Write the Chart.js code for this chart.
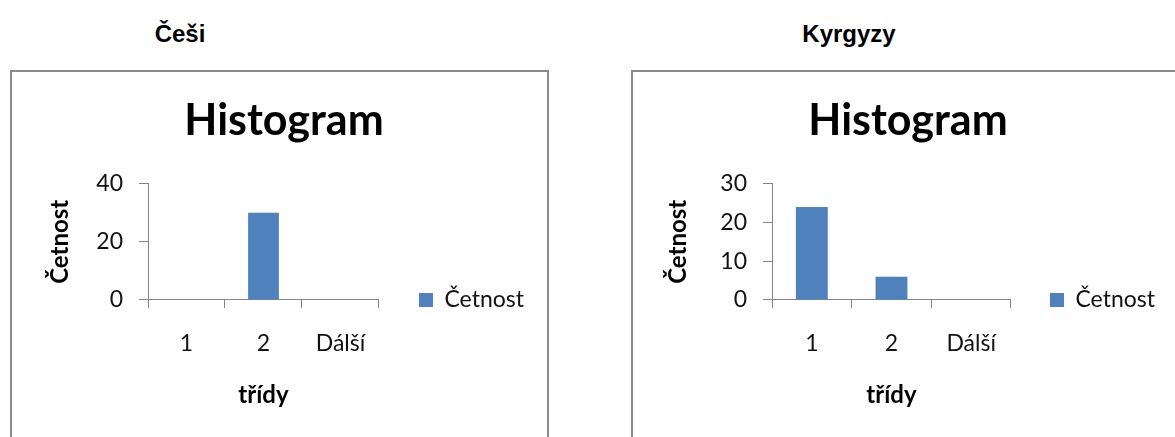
<!DOCTYPE html>
<html>
<head>
<meta charset="utf-8">
<script src="https://cdn.jsdelivr.net/npm/chart.js@4.4.1/dist/chart.umd.min.js"></script>
<style>
  html, body { margin: 0; padding: 0; background: #fff; overflow: hidden; width: 1175px; height: 437px; }
  .heading { position: absolute; top: 22px; font: bold 24px "Liberation Sans", Arial, sans-serif; line-height: 24px; color: #000; transform: translateX(-50%); white-space: nowrap; }
  .frame { position: absolute; top: 70px; height: 456px; border: 2px solid #8a8a8a; border-bottom: none; background: #fff; }
  canvas { display: block; }
</style>
</head>
<body>
<div class="heading" style="left:180px">Češi</div>
<div class="heading" style="left:849px">Kyrgyzy</div>
<div class="frame" style="left:10px; width:535px;"><canvas id="chartCesi" width="535" height="456"></canvas></div>
<div class="frame" style="left:631px; width:560px; border-right:none;"><canvas id="chartKyrgyzy" width="542" height="456"></canvas></div>

<script>
// data
const tridy = ['1', '2', 'Dálší'];
const cetnostCesi = [0, 30, 0];
const cetnostKyrgyzy = [24, 6, 0];
const ticksCesi = [0, 20, 40];
const ticksKyrgyzy = [0, 10, 20, 30];

const barva = '#4f81bd';
const sedaOsa = '#868686';

Chart.defaults.font.family = 'Lato, "Open Sans", sans-serif';
Chart.defaults.color = '#111';

// one histogram, padding values tuned so the plot sits where the original one does
function createHistogram(id, data, yTicks, lay) {
    const ctx = document.getElementById(id).getContext('2d');
    return new Chart(ctx, {
        type: 'bar',
        data: {
            labels: tridy,
            datasets: [{
                label: 'Četnost',
                data: data,
                backgroundColor: barva,
                borderWidth: 0,
                barPercentage: 0.4,
                categoryPercentage: 1.0
            }]
        },
        options: {
            responsive: false,
            animation: false,
            layout: { padding: { left: lay.padLeft, right: lay.padRight, top: 0, bottom: 0 } },
            plugins: {
                tooltip: { enabled: false },
                title: {
                    display: true,
                    text: 'Histogram',
                    color: '#000',
                    font: { size: 43, weight: 'bold' },
                    padding: { top: 23, bottom: 37 }
                },
                legend: {
                    position: 'right',
                    align: 'center',
                    maxWidth: 300,
                    labels: {
                        boxWidth: 14,
                        boxHeight: 14,
                        padding: lay.legendPad,
                        color: '#111',
                        font: { size: 23 }
                    }
                }
            },
            scales: {
                x: {
                    afterFit: function(scale) { scale.height = 228; },
                    border: { display: true, color: sedaOsa, width: 1 },
                    grid: { display: true, drawOnChartArea: false, drawTicks: true, tickLength: 8, color: sedaOsa, offset: true },
                    ticks: { padding: 22, font: { size: 23 }, color: '#111' },
                    title: {
                        display: true,
                        text: 'třídy',
                        color: '#000',
                        font: { size: 24, weight: 'bold' },
                        padding: { top: 0, bottom: 118 }
                    }
                },
                y: {
                    min: 0,
                    max: yTicks[yTicks.length - 1],
                    afterFit: function(scale) { scale.width = lay.yWidth; },
                    afterBuildTicks: function(scale) { scale.ticks = yTicks.map(v => ({ value: v })); },
                    border: { display: true, color: sedaOsa, width: 1 },
                    grid: { display: true, drawOnChartArea: false, drawTicks: true, tickLength: 9, color: sedaOsa },
                    ticks: { padding: 16, font: { size: 23 }, color: '#111' },
                    title: {
                        display: true,
                        text: 'Četnost',
                        color: '#000',
                        font: { size: 24, weight: 'bold' },
                        padding: { top: lay.yTitlePad, bottom: 0 }
                    }
                }
            }
        }
    });
}

createHistogram('chartCesi', cetnostCesi, ticksCesi, { padLeft: 22, padRight: 13, yWidth: 114, legendPad: 40, yTitlePad: 12 });
createHistogram('chartKyrgyzy', cetnostKyrgyzy, ticksKyrgyzy, { padLeft: 18, padRight: 10, yWidth: 121, legendPad: 39, yTitlePad: 13 });
</script>
</body>
</html>
